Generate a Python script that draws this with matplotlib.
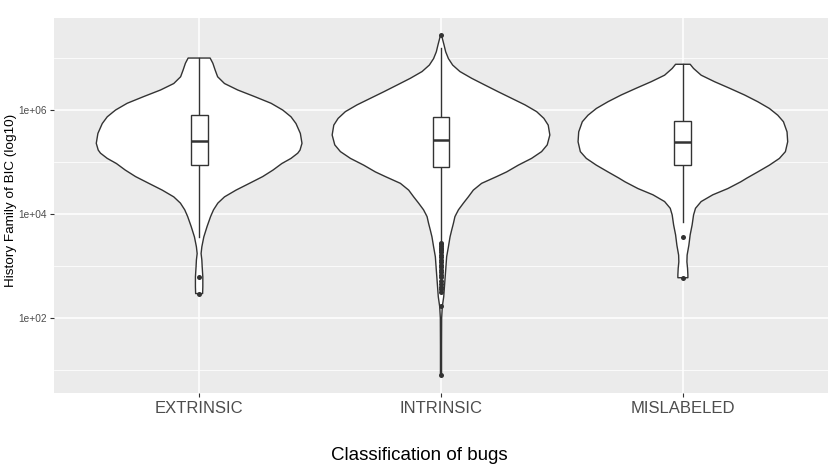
import numpy as np
import matplotlib
matplotlib.use("Agg")
import matplotlib.pyplot as plt
from matplotlib.ticker import FixedLocator, NullFormatter

# ---------------- data (log10 values) ----------------
categories = ["EXTRINSIC", "INTRINSIC", "MISLABELED"]

# violin profiles: log10(value) and relative density (100 = widest violin)
ext_logv = [7.0, 6.90, 6.77, 6.64, 6.51, 6.385, 6.26, 6.13, 6.0, 5.87, 5.74, 5.55,
            5.36, 5.23, 5.17, 5.07, 4.97, 4.846, 4.72, 4.59, 4.46, 4.33, 4.21, 4.08,
            3.95, 3.76, 3.56, 3.37, 3.24, 3.115, 2.99, 2.79, 2.60, 2.47]
ext_dens = [10.1, 12.6, 14.7, 17.0, 23.3, 35.5, 50.8, 66.1, 76.8, 84.4, 89.0, 93.0,
            94.5, 92.7, 90.6, 84.4, 75.9, 67.9, 58.4, 46.2, 33.9, 23.3, 17.2, 13.2,
            10.5, 7.3, 4.3, 2.5, 1.8, 2.5, 2.8, 3.4, 3.4, 3.2]

int_logv = [7.44, 7.38, 7.25, 7.12, 6.99, 6.865, 6.74, 6.61, 6.48, 6.35, 6.225, 6.10,
            5.97, 5.84, 5.71, 5.52, 5.33, 5.20, 5.07, 4.94, 4.81, 4.72, 4.59, 4.46,
            4.33, 4.21, 4.08, 3.95, 3.82, 3.69, 3.56, 3.37, 3.18, 2.92, 2.67, 2.41,
            2.22, 2.0, 1.5, 0.9]
int_dens = [0.5, 1.2, 2.8, 4.3, 6.8, 10.7, 17.4, 28.2, 40.4, 52.7, 64.9, 77.1,
            87.8, 94.5, 98.5, 100.0, 97.6, 92.4, 83.2, 71.0, 60.3, 51.1, 37.3, 29.7,
            25.1, 20.6, 16.0, 12.8, 11.4, 9.8, 8.3, 6.8, 5.2, 4.3, 3.4, 2.5,
            1.2, 0.6, 0.5, 0.5]

mis_logv = [6.88, 6.80, 6.67, 6.545, 6.42, 6.29, 6.16, 6.03, 5.90, 5.775, 5.58, 5.39,
            5.20, 5.07, 4.94, 4.81, 4.69, 4.62, 4.49, 4.37, 4.24, 4.11, 3.98, 3.79,
            3.60, 3.40, 3.21, 3.08, 2.955, 2.83, 2.775]
mis_dens = [6.7, 9.8, 16.8, 29.1, 42.8, 56.6, 68.8, 79.5, 87.2, 92.4, 95.7, 96.3,
            94.2, 88.7, 79.5, 68.8, 58.7, 53.2, 41.3, 27.5, 16.8, 11.6, 9.8, 8.5,
            6.7, 5.5, 3.9, 3.7, 4.3, 4.6, 4.6]

# boxplot stats (log10): lower whisker, Q1, median, Q3, upper whisker
box_low = [3.56, 3.47, 3.85]
box_q1 = [4.94, 4.91, 4.94]
box_med = [5.41, 5.42, 5.38]
box_q3 = [5.90, 5.86, 5.79]
box_high = [7.0, 7.2, 6.88]

# outliers (log10)
ext_out = [2.78, 2.47]
int_out = [7.44, 3.45, 3.42, 3.38, 3.35, 3.32, 3.30, 3.27, 3.22, 3.18, 3.12, 3.08,
           3.02, 2.98, 2.93, 2.88, 2.82, 2.78, 2.72, 2.65, 2.60, 2.55, 2.50, 2.24, 0.90]
mis_out = [3.56, 2.775]

y_major = [2, 4, 6]
y_minor = [1, 3, 5, 7]
y_ticklabels = ["1e+02", "1e+04", "1e+06"]

# ---------------- plotting ----------------
W, H, DPI = 830, 468, 100
fig = plt.figure(figsize=(W / DPI, H / DPI), dpi=DPI)
fig.patch.set_facecolor("white")
ax = fig.add_axes([54 / W, (H - 393) / H, (828 - 54) / W, (393 - 18) / H])
ax.set_facecolor("#EBEBEB")
for s in ax.spines.values():
    s.set_visible(False)

ax.set_yscale("log")
ax.set_ylim(10 ** 0.558, 10 ** 7.77)
ax.set_xlim(0.4, 3.6)

ax.yaxis.set_major_locator(FixedLocator([10.0 ** v for v in y_major]))
ax.yaxis.set_minor_locator(FixedLocator([10.0 ** v for v in y_minor]))
ax.yaxis.set_minor_formatter(NullFormatter())
ax.set_yticklabels(y_ticklabels)
ax.set_xticks([1, 2, 3])
ax.set_xticklabels(categories)

ax.grid(True, which="major", color="white", lw=1.1)
ax.grid(True, which="minor", axis="y", color="white", lw=0.55)
ax.set_axisbelow(True)

ax.tick_params(axis="y", which="major", length=3, width=0.8, color="#333333",
               labelsize=7.3, labelcolor="#4D4D4D", pad=2)
ax.tick_params(axis="y", which="minor", length=0)
ax.tick_params(axis="x", length=3, width=0.8, color="#333333",
               labelsize=12, labelcolor="#4D4D4D", pad=3)
for lab in ax.get_xticklabels() + ax.get_yticklabels():
    lab.set_family("Liberation Sans")

edge = "#333333"
half_max = 0.45
profiles = [(ext_logv, ext_dens), (int_logv, int_dens), (mis_logv, mis_dens)]
outs = [ext_out, int_out, mis_out]
bw = 0.035

for i, (lv, dn) in enumerate(profiles):
    c = i + 1
    lv = np.array(lv)
    dn = np.array(dn) / 100.0 * half_max
    yv = 10.0 ** lv
    xs = np.concatenate([c - dn, (c + dn)[::-1], [c - dn[0]]])
    ys = np.concatenate([yv, yv[::-1], [yv[0]]])
    ax.fill(xs, ys, facecolor="white", edgecolor=edge, lw=1.0, zorder=2,
            joinstyle="round")

    # whiskers
    ax.plot([c, c], [10 ** box_q3[i], 10 ** box_high[i]], color=edge, lw=1.0, zorder=3)
    ax.plot([c, c], [10 ** box_low[i], 10 ** box_q1[i]], color=edge, lw=1.0, zorder=3)
    # box
    bx = [c - bw, c + bw, c + bw, c - bw, c - bw]
    by = [10 ** box_q1[i], 10 ** box_q1[i], 10 ** box_q3[i], 10 ** box_q3[i], 10 ** box_q1[i]]
    ax.fill(bx, by, facecolor="white", edgecolor=edge, lw=1.0, zorder=3)
    ax.plot([c - bw, c + bw], [10 ** box_med[i]] * 2, color=edge, lw=1.8, zorder=4,
            solid_capstyle="butt")
    # outliers
    ov = 10.0 ** np.array(outs[i])
    ax.plot(np.full(len(ov), c), ov, "o", color=edge, ms=3.6, mew=0, zorder=5)

fig.text(11 / W, 1 - 200 / H, "History Family of BIC (log10)", rotation=90,
         ha="center", va="center", fontsize=9.7, color="black", family="Liberation Sans")
fig.text(419 / W, 1 - 455 / H, "Classification of bugs", ha="center", va="center",
         fontsize=13.5, color="black", family="Liberation Sans")

fig.savefig("out.png", dpi=DPI)
